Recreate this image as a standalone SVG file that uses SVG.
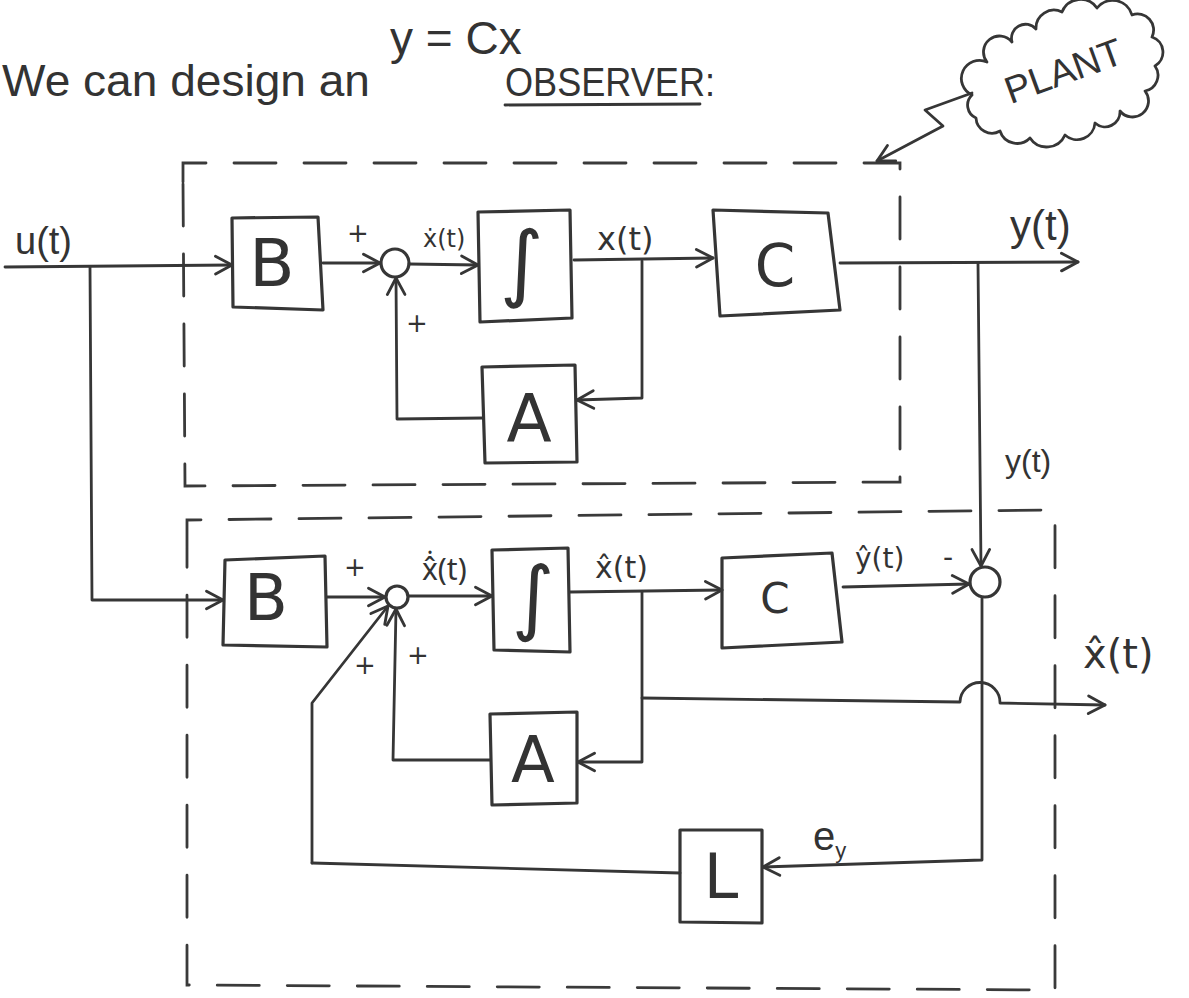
<svg xmlns="http://www.w3.org/2000/svg" width="1189" height="998" viewBox="0 0 1189 998">
<style>
  .ln{fill:none;stroke:#363636;stroke-width:2.8;stroke-linecap:round;stroke-linejoin:round}
  .bx{fill:none;stroke:#363636;stroke-width:3.2;stroke-linejoin:round}
  .dash{fill:none;stroke:#3a3a3a;stroke-width:2.8;stroke-dasharray:42 28;stroke-linecap:round}
  .t{font-family:"DejaVu Sans","Liberation Sans",sans-serif;fill:#333}
  .nt{font-family:"Noto Sans","DejaVu Sans",sans-serif;fill:#333}
  .big{font-family:"DejaVu Sans","Liberation Sans",sans-serif;fill:#333;text-anchor:middle;dominant-baseline:central;font-weight:normal}
  .hand{font-family:"Liberation Sans","DejaVu Sans",sans-serif;fill:#333}
</style>
<defs>
  <marker id="arr" viewBox="0 0 20 20" refX="18" refY="10" markerWidth="22" markerHeight="22" markerUnits="userSpaceOnUse" orient="auto">
    <path d="M3,2 L18,10 L3,18" fill="none" stroke="#363636" stroke-width="2.6" stroke-linecap="round" stroke-linejoin="round"/>
  </marker>
</defs>
<rect width="1189" height="998" fill="#ffffff"/>

<g id="header">
  <text class="hand" x="390" y="54" font-size="46">y = Cx</text>
  <text class="hand" x="2" y="96" font-size="44" textLength="368" lengthAdjust="spacingAndGlyphs">We can design an</text>
  <text class="hand" x="505" y="96" font-size="40" textLength="210" lengthAdjust="spacingAndGlyphs">OBSERVER:</text>
  <path class="ln" d="M505,105 L700,104"/>
</g>

<g id="plant">
  <path class="ln" d="M972,95 A14,14 0 0 1 987,62 A16,16 0 0 1 1012,42 A14,14 0 0 1 1036,29 A18,18 0 0 1 1062,12 A20,20 0 0 1 1097,8 A20,20 0 0 1 1132,15 A16,16 0 0 1 1152,37 A16,16 0 0 1 1155,66 A16,16 0 0 1 1145,91 A16,16 0 0 1 1120,111 A15,15 0 0 1 1095,123 A18,18 0 0 1 1065,135 A20,20 0 0 1 1030,138 A18,18 0 0 1 1000,131 A16,16 0 0 1 976,118 A14,14 0 0 1 972,95 Z"/>
  <text class="hand" x="1064" y="84" font-size="38" text-anchor="middle" transform="rotate(-20 1064 72)">PLANT</text>
</g>

<g id="observer-boundaries">
  <path class="dash" d="M183,182 L183,163 L900,163 L900,482 L185,486 L183,182"/>
  <path class="dash" d="M187,548 L187,520 L1045,510 L1055,512 L1055,990 L187,985 L187,548"/>
</g>

<g id="connectors">
  <path class="ln" d="M972,93 L925,110 L943,126 L877,161" marker-end="url(#arr)"/>
  <path class="ln" d="M5,267 L232,265" marker-end="url(#arr)"/>
  <path class="ln" d="M90,267 L92,600 L223,600" marker-end="url(#arr)"/>
  <path class="ln" d="M323,263 L380,263" marker-end="url(#arr)"/>
  <path class="ln" d="M409,264 L478,265" marker-end="url(#arr)"/>
  <path class="ln" d="M574,260 L713,258" marker-end="url(#arr)"/>
  <path class="ln" d="M642,261 L642,398 L577,400" marker-end="url(#arr)"/>
  <path class="ln" d="M483,418 L397,419 L396,278" marker-end="url(#arr)"/>
  <path class="ln" d="M840,263 L1078,262" marker-end="url(#arr)"/>
  <path class="ln" d="M978,263 L981,566" marker-end="url(#arr)"/>
  <path class="ln" d="M327,597 L385,597" marker-end="url(#arr)"/>
  <path class="ln" d="M409,596 L492,596" marker-end="url(#arr)"/>
  <path class="ln" d="M570,592 L722,590" marker-end="url(#arr)"/>
  <path class="ln" d="M642,592 L642,762 L578,762" marker-end="url(#arr)"/>
  <path class="ln" d="M490,760 L393,760 L396,609" marker-end="url(#arr)"/>
  <path class="ln" d="M843,587 L969,584" marker-end="url(#arr)"/>
  <path class="ln" d="M312,863 L312,703 L388,606" marker-end="url(#arr)"/>
  <path class="ln" d="M642,698 L960,702 A20,20 0 0 1 1000,703 L1105,705" marker-end="url(#arr)"/>
  <path class="ln" d="M982,598 L982,860 L763,867" marker-end="url(#arr)"/>
  <path class="ln" d="M680,873 L312,863"/>
</g>

<g id="plant-B">
  <path class="bx" d="M232,218 L318,217 L323,310 L233,307 Z"/>
  <text class="big" x="272" y="263" font-size="66">B</text>
</g>
<g id="plant-sum">
  <circle class="bx" cx="395" cy="263" r="14"/>
  <text class="t" x="358" y="242" font-size="26" text-anchor="middle">+</text>
  <text class="t" x="417" y="332" font-size="26" text-anchor="middle">+</text>
</g>
<g id="plant-int">
  <path class="bx" d="M478,212 L570,210 L572,318 L480,322 Z"/>
  <text class="big" x="522" y="262" font-size="84">∫</text>
  <text class="t" x="423" y="247" font-size="24">&#x1E8B;(t)</text>
</g>
<g id="plant-C">
  <path class="bx" d="M713,210 L828,213 L840,310 L720,316 Z"/>
  <text class="big" x="775" y="266" font-size="58">C</text>
  <text class="t" x="597" y="250" font-size="32">x(t)</text>
</g>
<g id="plant-A">
  <path class="bx" d="M482,367 L575,365 L577,462 L485,463 Z"/>
  <text class="big" x="529" y="418" font-size="66">A</text>
</g>
<g id="plant-labels">
  <text class="hand" x="15" y="254" font-size="38">u(t)</text>
  <text class="hand" x="1010" y="240" font-size="42">y(t)</text>
  <text class="hand" x="1005" y="472" font-size="32">y(t)</text>
</g>

<g id="obs-B">
  <path class="bx" d="M225,560 L325,556 L327,647 L223,645 Z"/>
  <text class="big" x="266" y="598" font-size="64">B</text>
  <text class="t" x="355" y="576" font-size="26" text-anchor="middle">+</text>
</g>
<g id="obs-sum">
  <circle class="bx" cx="397" cy="597" r="11"/>
  <text class="t" x="418" y="664" font-size="26" text-anchor="middle">+</text>
  <text class="t" x="365" y="674" font-size="26" text-anchor="middle">+</text>
</g>
<g id="obs-int">
  <path class="bx" d="M492,550 L568,548 L570,652 L494,650 Z"/>
  <text class="big" x="533" y="596" font-size="82">∫</text>
  <text class="nt" x="422" y="580" font-size="30">x&#x302;&#x307;(t)</text>
  <text class="t" x="595" y="578" font-size="30">x&#x302;(t)</text>
</g>
<g id="obs-C">
  <path class="bx" d="M722,558 L832,553 L842,642 L722,648 Z"/>
  <text class="big" x="775" y="598" font-size="42">C</text>
  <text class="t" x="855" y="568" font-size="28">&#x177;(t)</text>
</g>
<g id="obs-diff">
  <circle class="bx" cx="985" cy="582" r="15"/>
  <text class="t" x="948" y="567" font-size="28" text-anchor="middle">-</text>
</g>
<g id="obs-A">
  <path class="bx" d="M490,714 L577,712 L577,803 L492,805 Z"/>
  <text class="big" x="533" y="760" font-size="64">A</text>
</g>
<g id="obs-L">
  <path class="bx" d="M680,830 L762,830 L762,923 L680,922 Z"/>
  <text class="big" x="721" y="876" font-size="62">L</text>
  <text class="hand" x="813" y="850" font-size="40">e<tspan font-size="22" dy="8">y</tspan></text>
</g>
<g id="obs-output">
  <text class="t" x="1083" y="668" font-size="40">x&#x302;(t)</text>
</g>
</svg>
